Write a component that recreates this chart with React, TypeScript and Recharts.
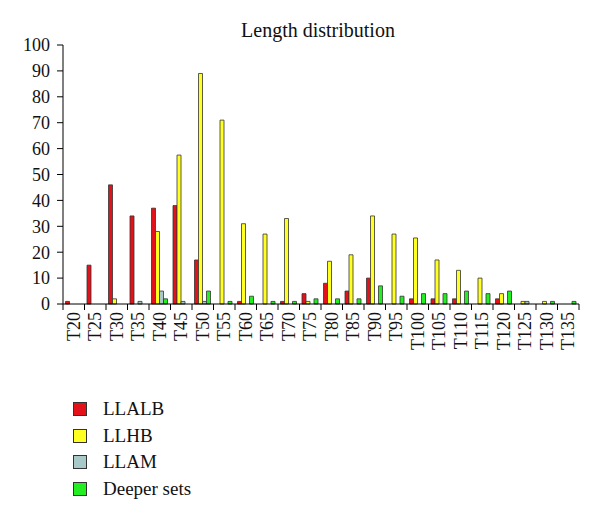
import React from "react";
import { BarChart, Bar, XAxis, YAxis } from "recharts";

const categories = ["T20","T25","T30","T35","T40","T45","T50","T55","T60","T65","T70","T75","T80","T85","T90","T95","T100","T105","T110","T115","T120","T125","T130","T135"];
const llalb = [1,15,46,34,37,38,17,0,1,0,1,4,8,5,10,0,2,2,2,0,2,0,0,0];
const llhb = [0,0,2,0,28,57.5,89,71,31,27,33,1,16.5,19,34,27,25.5,17,13,10,4,1,1,0];
const llam = [0,0,0,1,5,1,1,0,0,0,0,0,0,0,0,0,0,0,0,0,0,1,0,0];
const deeper = [0,0,0,0,2,0,5,1,3,1,1,2,2,2,7,3,4,4,5,4,5,0,1,1];
const yTicks = [0,10,20,30,40,50,60,70,80,90,100];

const series = [
  { key: "llalb", name: "LLALB", color: "#e3121a" },
  { key: "llhb", name: "LLHB", color: "#ffff22" },
  { key: "llam", name: "LLAM", color: "#a9c9c9" },
  { key: "deeper", name: "Deeper sets", color: "#22ee22" },
];

const data = categories.map((c, i) => ({
  cat: c,
  llalb: llalb[i],
  llhb: llhb[i],
  llam: llam[i],
  deeper: deeper[i],
}));

const W = 592;
const H = 511;
const LEFT = 55;
const RIGHT_END = 571;
const BW = (RIGHT_END - LEFT) / categories.length;
const FONT = "'Liberation Serif', 'DejaVu Serif', serif";

const XTick = (props: any) => {
  const { x, y, payload, index } = props;
  const ay = y - 8;
  const last = index === categories.length - 1;
  return (
    <g>
      <line x1={x - BW / 2} x2={x - BW / 2} y1={ay} y2={ay + 6} stroke="#000" />
      {last && <line x1={x + BW / 2} x2={x + BW / 2} y1={ay} y2={ay + 6} stroke="#000" />}
      <text
        x={x}
        y={y}
        dy={6}
        transform={`rotate(-90 ${x} ${y})`}
        textAnchor="end"
        fontFamily={FONT}
        fontSize={18}
        fill="#111"
      >
        {payload.value}
      </text>
    </g>
  );
};

export default function App() {
  return (
    <div style={{ position: "relative", width: W, height: H, background: "#fff" }}>
      <BarChart
        width={W}
        height={H}
        data={data}
        margin={{ top: 37, right: W - RIGHT_END, left: 0, bottom: 155 }}
        barCategoryGap={2.5}
        barGap={0}
      >
        <text x={310} y={29} textAnchor="middle" fontFamily={FONT} fontSize={20} fill="#111">
          Length distribution
        </text>
        <XAxis
          dataKey="cat"
          interval={0}
          height={60}
          tickLine={false}
          axisLine={{ stroke: "#000" }}
          tick={<XTick />}
        />
        <YAxis
          width={LEFT}
          domain={[0, 100]}
          ticks={yTicks}
          interval={0}
          tickSize={6}
          tickMargin={7}
          axisLine={{ stroke: "#000" }}
          tickLine={{ stroke: "#000" }}
          tick={{ fontFamily: FONT, fontSize: 18, fill: "#111" }}
        />
        {series.map((s) => (
          <Bar
            key={s.key}
            dataKey={s.key}
            name={s.name}
            fill={s.color}
            stroke="#333"
            strokeWidth={0.8}
            isAnimationActive={false}
          />
        ))}
      </BarChart>
      <div style={{ position: "absolute", left: 65, top: 388, fontFamily: FONT, fontSize: 19, color: "#111" }}>
        {series.map((s) => (
          <div key={s.key} style={{ display: "flex", alignItems: "center", height: 26.5 }}>
            <span
              style={{
                display: "inline-block",
                width: 12,
                height: 12,
                background: s.color,
                border: "1px solid #333",
                marginRight: 16,
              }}
            />
            <span>{s.name}</span>
          </div>
        ))}
      </div>
    </div>
  );
}
